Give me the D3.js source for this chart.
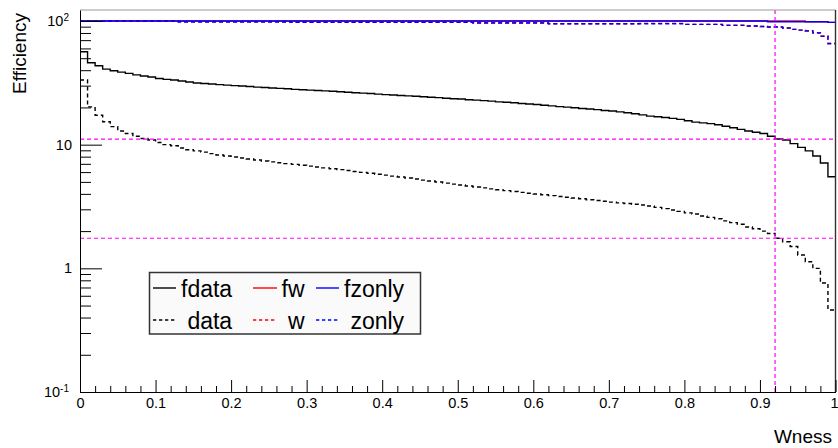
<!DOCTYPE html>
<html>
<head>
<meta charset="utf-8">
<script src="https://cdn.jsdelivr.net/npm/d3@7"></script>
<style>
  body { margin: 0; background: #fff; }
  svg { display: block; font-family: "Liberation Sans", Arial, Helvetica, sans-serif; }
</style>
</head>
<body>
<div id="chart"></div>
<script>
// histogram binning: 100 bins on Wness [0, 1]
const nBins = 100;
const wnessRange = [0, 1];

// efficiency (%) per bin
const fdata = [
  56.4, 45.9, 43.4, 40.8, 39.6, 38.6, 37.7, 36.7, 35.9, 35.2,
  34.3, 33.7, 33.3, 32.7, 32.1, 31.5, 31.2, 30.9, 30.6, 30.3,
  30.0, 29.8, 29.5, 29.2, 29.0, 28.7, 28.5, 28.3, 28.0, 27.8,
  27.6, 27.4, 27.2, 27.0, 26.8, 26.5, 26.3, 26.1, 25.9, 25.6,
  25.4, 25.2, 25.0, 24.8, 24.6, 24.4, 24.2, 24.0, 23.7, 23.5,
  23.4, 23.1, 22.9, 22.7, 22.5, 22.2, 22.0, 21.8, 21.5, 21.3,
  21.1, 20.8, 20.6, 20.3, 20.1, 19.9, 19.6, 19.4, 19.2, 18.9,
  18.7, 18.4, 18.1, 17.8, 17.4, 17.0, 16.8, 16.6, 16.3, 16.0,
  15.6, 15.2, 15.0, 14.8, 14.5, 14.1, 13.7, 13.3, 12.9, 12.6,
  12.3, 11.7, 11.1, 10.9, 10.2, 9.5, 8.9, 8.1, 7.1, 5.5
];

const data = [
  33.3, 20.2, 17.3, 15.3, 14.0, 12.9, 12.3, 11.7, 11.2, 10.9,
  10.4, 10.0, 9.8, 9.4, 9.1, 8.9, 8.71, 8.47, 8.24, 8.09,
  7.95, 7.80, 7.65, 7.51, 7.37, 7.26, 7.14, 7.03, 6.93, 6.82,
  6.71, 6.59, 6.49, 6.38, 6.28, 6.18, 6.07, 5.97, 5.87, 5.77,
  5.67, 5.57, 5.47, 5.37, 5.27, 5.17, 5.08, 4.99, 4.89, 4.80,
  4.72, 4.63, 4.54, 4.47, 4.39, 4.32, 4.25, 4.18, 4.11, 4.05,
  3.99, 3.93, 3.87, 3.81, 3.76, 3.70, 3.65, 3.59, 3.54, 3.49,
  3.43, 3.38, 3.34, 3.30, 3.25, 3.19, 3.11, 3.04, 2.96, 2.89,
  2.81, 2.75, 2.65, 2.58, 2.52, 2.42, 2.34, 2.27, 2.16, 2.09,
  2.00, 1.91, 1.75, 1.64, 1.50, 1.28, 1.13, 1.00, 0.76, 0.46
];

const fw = [
  100, 100, 100, 100, 100, 100, 100, 100, 100, 100,
  100, 100, 100, 100, 100, 100, 100, 100, 100, 100,
  100, 100, 100, 100, 100, 100, 100, 100, 100, 100,
  100, 100, 100, 100, 100, 100, 100, 100, 100, 100,
  100, 100, 100, 100, 100, 100, 100, 100, 100, 100,
  100, 100, 100, 100, 100, 100, 100, 100, 100, 100,
  100, 100, 100, 100, 100, 100, 100, 100, 100, 100,
  100, 100, 100, 100, 100, 100, 100, 100, 100, 100,
  100, 100, 100, 100, 100, 100, 100, 100, 100, 100,
  100, 100, 100, 100, 100, 100, 98.5, 98.5, 98.5, 97.5
];

const w = [
  100, 100, 100, 100, 100, 100, 100, 100, 100, 100,
  100, 100, 100, 98.8, 98.8, 98.8, 98.8, 98.8, 98.8, 98.8,
  98.8, 98.8, 98.8, 98.8, 98.8, 98.8, 98.8, 98.2, 97.4, 97.4,
  97.4, 97.4, 97.4, 97.4, 97.4, 97.4, 97.4, 97.4, 97.4, 97.4,
  97.4, 97.4, 97.4, 97.4, 97.4, 97.4, 97.4, 97.4, 97.4, 97.4,
  97.4, 97.4, 96.9, 96.9, 96.9, 96.9, 96.9, 96.9, 96.9, 96.9,
  96.9, 96.9, 95.1, 95.1, 95.1, 95.1, 95.1, 95.1, 95.1, 95.1,
  95.1, 95.1, 95.1, 95.1, 95.6, 95.6, 95.6, 95.6, 95.6, 95.6,
  93.9, 93.9, 93.9, 93.9, 93.9, 92.6, 92.6, 92.6, 91.1, 91.1,
  90.2, 89.4, 89.4, 87.8, 85.5, 84.3, 83.5, 80.5, 75.6, 66.0
];

const fzonly = [
  100, 100, 100, 100, 100, 100, 100, 100, 100, 100,
  100, 100, 100, 100, 100, 100, 100, 100, 100, 100,
  100, 100, 100, 100, 100, 100, 100, 100, 100, 100,
  100, 100, 100, 100, 100, 100, 100, 100, 100, 100,
  100, 100, 100, 100, 100, 100, 100, 100, 100, 100,
  100, 100, 100, 100, 100, 100, 100, 100, 100, 100,
  100, 100, 100, 100, 100, 100, 100, 100, 100, 100,
  100, 100, 100, 100, 100, 100, 100, 100, 100, 100,
  100, 100, 100, 100, 100, 100, 100, 100, 100, 100,
  100, 98.5, 98.5, 98.5, 98.5, 98.5, 98.5, 98.5, 98.5, 97.5
];

const zonly = [
  100, 100, 100, 100, 100, 100, 100, 100, 100, 100,
  100, 100, 100, 98.2, 98.2, 98.2, 98.2, 98.2, 98.2, 98.2,
  98.2, 98.2, 98.2, 98.2, 98.2, 98.2, 98.2, 98.2, 97.4, 97.4,
  97.4, 97.4, 97.4, 97.4, 97.4, 97.4, 97.4, 97.4, 97.4, 97.4,
  97.4, 97.4, 97.4, 97.4, 97.4, 97.4, 97.4, 97.4, 97.4, 97.4,
  97.4, 97.4, 96.3, 96.3, 96.3, 96.3, 96.3, 96.3, 96.3, 96.3,
  96.3, 96.3, 95.1, 95.1, 95.1, 95.1, 95.1, 95.1, 95.1, 95.1,
  95.1, 95.1, 95.1, 95.1, 95.1, 95.1, 95.1, 95.1, 95.1, 95.1,
  93.9, 93.9, 93.9, 93.9, 93.9, 92.1, 92.1, 92.1, 91.1, 91.1,
  90.2, 89.4, 89.4, 87.8, 85.5, 84.3, 83.0, 80.0, 75.1, 65.5
];

// working point: Wness cut and the efficiencies it gives
const wnessCut = 0.92;
const cutEfficiencies = [11.1, 1.75];

const yMajorTicks = [0.1, 1, 10, 100];
const yMinorTicks = [0.2, 0.3, 0.4, 0.5, 0.6, 0.7, 0.8, 0.9,
  2, 3, 4, 5, 6, 7, 8, 9, 20, 30, 40, 50, 60, 70, 80, 90];
const xMajorTicks = [0, 0.1, 0.2, 0.3, 0.4, 0.5, 0.6, 0.7, 0.8, 0.9, 1];

// legend labels keep ROOT's leading space on the dashed entries
const series = [
  { name: "fdata", label: "fdata", values: fdata, color: "#000000", dashed: false },
  { name: "data", label: " data", values: data, color: "#000000", dashed: true },
  { name: "fw", label: "fw", values: fw, color: "#ff0000", dashed: false },
  { name: "w", label: " w", values: w, color: "#ff0000", dashed: true },
  { name: "fzonly", label: "fzonly", values: fzonly, color: "#0000ff", dashed: false },
  { name: "zonly", label: " zonly", values: zonly, color: "#0000ff", dashed: true },
];

const width = 838, height = 448;
const frame = { left: 80, right: 835.5, top: 10, bottom: 392 };
const dash = "4,3";

const svg = d3.select("#chart")
  .append("svg")
  .attr("width", width)
  .attr("height", height);

svg.append("rect")
  .attr("width", width)
  .attr("height", height)
  .attr("fill", "#fff");

const x = d3.scaleLinear()
  .domain(wnessRange)
  .range([frame.left, frame.right]);

const y = d3.scaleLog()
  .domain([0.1, 122.7])
  .range([frame.bottom, frame.top]);

const binWidth = (wnessRange[1] - wnessRange[0]) / nBins;

// step outline of a histogram
function histPoints(values) {
  const pts = values.map((v, i) => [wnessRange[0] + i * binWidth, v]);
  pts.push([wnessRange[1], values[values.length - 1]]);
  return pts;
}

const stepLine = d3.line()
  .x(d => x(d[0]))
  .y(d => y(d[1]))
  .curve(d3.curveStepAfter);

const plot = svg.append("g");

series.forEach(s => {
  plot.append("path")
    .datum(histPoints(s.values))
    .attr("fill", "none")
    .attr("stroke", s.color)
    .attr("stroke-width", 1.4)
    .attr("stroke-dasharray", s.dashed ? dash : null)
    .attr("d", stepLine);
});

// cut lines
cutEfficiencies.forEach(e => {
  plot.append("line")
    .attr("x1", frame.left).attr("x2", frame.right)
    .attr("y1", y(e)).attr("y2", y(e))
    .attr("stroke", "#ff00ff")
    .attr("stroke-width", 1.2)
    .attr("stroke-dasharray", dash);
});
plot.append("line")
  .attr("x1", x(wnessCut)).attr("x2", x(wnessCut))
  .attr("y1", frame.top).attr("y2", frame.bottom)
  .attr("stroke", "#ff00ff")
  .attr("stroke-width", 1.2)
  .attr("stroke-dasharray", dash);

// frame top/right
svg.append("line")
  .attr("x1", frame.left).attr("x2", frame.right)
  .attr("y1", frame.top).attr("y2", frame.top)
  .attr("stroke", "#999").attr("stroke-width", 1);
svg.append("line")
  .attr("x1", frame.right).attr("x2", frame.right)
  .attr("y1", frame.top).attr("y2", frame.bottom)
  .attr("stroke", "#333").attr("stroke-width", 1.4);

// x axis
const xMinor = d3.range(0, 101, 2).map(d => d / 100).filter(d => !xMajorTicks.includes(d));
svg.append("g")
  .attr("transform", `translate(0,${frame.bottom})`)
  .call(d3.axisBottom(x).tickValues(xMinor).tickSize(-6).tickSizeOuter(0).tickFormat(""))
  .call(g => g.select(".domain").remove());

svg.append("g")
  .attr("transform", `translate(0,${frame.bottom})`)
  .call(d3.axisBottom(x)
    .tickValues(xMajorTicks)
    .tickSize(-12)
    .tickSizeOuter(0)
    .tickPadding(6)
    .tickFormat(d => String(+d.toFixed(1))))
  .call(g => g.selectAll("text").attr("font-size", 14.5).attr("fill", "#000"))
  .call(g => g.selectAll(".tick text").filter(d => d === 1)
    .attr("text-anchor", "end").attr("x", 2.5))
  .call(g => g.selectAll("line, path").attr("stroke", "#000"));

// y axis
svg.append("g")
  .attr("transform", `translate(${frame.left},0)`)
  .call(d3.axisLeft(y).tickValues(yMinorTicks).tickSize(-11).tickSizeOuter(0).tickFormat(""))
  .call(g => g.select(".domain").remove());

svg.append("g")
  .attr("transform", `translate(${frame.left},0)`)
  .call(d3.axisLeft(y)
    .tickValues(yMajorTicks)
    .tickSize(-22)
    .tickSizeOuter(0)
    .tickPadding(8))
  .call(g => g.selectAll("line, path").attr("stroke", "#000"))
  .call(g => g.selectAll(".tick text")
    .attr("font-size", 14.5)
    .attr("fill", "#000")
    .each(function (d) {
      const t = d3.select(this).text("");
      const exp = Math.round(Math.log10(d));
      if (exp === 0) { t.text("1"); return; }
      if (exp === 1) { t.text("10"); return; }
      t.attr("x", -11);
      t.append("tspan").text("10");
      t.append("tspan")
        .attr("font-size", 10)
        .attr("dy", "-0.55em")
        .text(exp);
    }));

// axis titles
svg.append("text")
  .attr("text-anchor", "end")
  .attr("font-size", 19)
  .attr("transform", "translate(26,13) rotate(-90)")
  .text("Efficiency");

svg.append("text")
  .attr("text-anchor", "end")
  .attr("font-size", 19)
  .attr("x", 832)
  .attr("y", 443)
  .text("Wness");

// legend
const legendBox = { x: 149.5, y: 272.5, w: 271, h: 61.5 };
const legendCols = [
  { lineX: [153, 176], textX: 181 },
  { lineX: [253, 277], textX: 281.5 },
  { lineX: [316, 339], textX: 344 },
];
const legendRows = [288, 320];

const legend = svg.append("g");
legend.append("rect")
  .attr("x", legendBox.x).attr("y", legendBox.y)
  .attr("width", legendBox.w).attr("height", legendBox.h)
  .attr("fill", "#fafafa")
  .attr("stroke", "#333")
  .attr("stroke-width", 1.5);

series.forEach((s, i) => {
  const col = legendCols[Math.floor(i / 2)];
  const ry = legendRows[i % 2];
  legend.append("line")
    .attr("x1", col.lineX[0]).attr("x2", col.lineX[1])
    .attr("y1", ry).attr("y2", ry)
    .attr("stroke", s.color)
    .attr("stroke-width", 1.4)
    .attr("stroke-dasharray", s.dashed ? "3.3,2.7" : null);
  legend.append("text")
    .attr("x", col.textX)
    .attr("y", ry)
    .attr("dy", "0.4em")
    .attr("font-size", 23)
    .style("white-space", "pre")
    .text(s.label);
});
</script>
</body>
</html>
